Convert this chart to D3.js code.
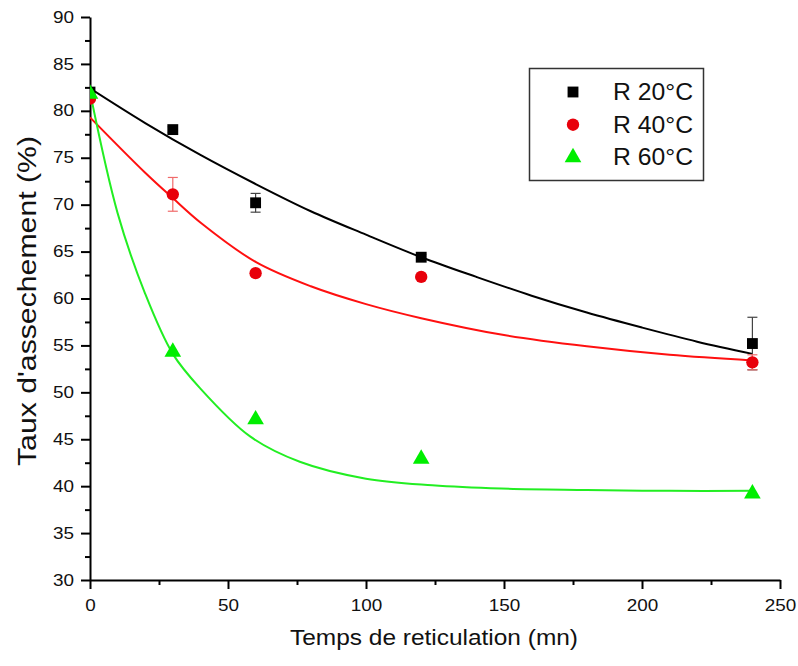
<!DOCTYPE html>
<meta charset="utf-8">
<style>
  body { margin: 0; background: #fff; }
  svg { display: block; font-family: "Liberation Sans", Arial, sans-serif; }
  .axis path, .axis line { stroke: #000; stroke-width: 2; }
  .axis text { font-size: 16px; fill: #111; }
</style>
<svg width="798" height="666"></svg>

<script src="https://cdn.jsdelivr.net/npm/d3@7"></script>
<script>

// measured points (time in mn, rate in %)
var times = [0, 30, 60, 120, 240];
var r20 = [82.0, 78.0, 70.2, 64.4, 55.2];
var r20err = [0, 0.3, 1.0, 0.3, 2.8];
var r40 = [81.3, 71.1, 62.7, 62.3, 53.2];
var r40err = [0, 1.8, 0, 0, 0.8];
var r60 = [81.8, 54.3, 47.1, 42.9, 39.2];
var r60err = [0, 0, 0, 0, 0];

// fitted curves
var fit20x = [0, 20, 40, 60, 80, 100, 120, 140, 160, 180, 200, 220, 240];
var fit20y = [82.4, 78.7, 75.3, 72.2, 69.3, 66.8, 64.4, 62.3, 60.3, 58.5, 56.9, 55.4, 54.1];
var fit40x = [0, 20, 30, 40, 60, 80, 100, 120, 150, 180, 210, 240];
var fit40y = [79.3, 73.4, 70.7, 68.1, 63.9, 61.3, 59.4, 57.9, 56.1, 54.9, 54.0, 53.4];
var fit60x = [0, 10, 20, 30, 40, 58, 76, 100, 124, 149, 180, 210, 240];
var fit60y = [82.0, 69.1, 60.5, 54.1, 50.4, 45.3, 42.6, 40.8, 40.1, 39.75, 39.6, 39.5, 39.5];

var xTicks = [0, 50, 100, 150, 200, 250];
var xMinor = [25, 75, 125, 175, 225];
var yTicks = [30, 35, 40, 45, 50, 55, 60, 65, 70, 75, 80, 85, 90];
var yMinor = [32.5, 37.5, 42.5, 47.5, 52.5, 57.5, 62.5, 67.5, 72.5, 77.5, 82.5, 87.5];

var series = [
  { name: "R 20\u00b0C", y: r20, err: r20err, fx: fit20x, fy: fit20y, color: "#000", errColor: "#444", line: "#000", symbol: d3.symbolSquare, size: 118 },
  { name: "R 40\u00b0C", y: r40, err: r40err, fx: fit40x, fy: fit40y, color: "#e8000b", errColor: "#f06a6a", line: "#ff1010", symbol: d3.symbolCircle, size: 120 },
  { name: "R 60\u00b0C", y: r60, err: r60err, fx: fit60x, fy: fit60y, color: "#00ee00", errColor: "#00ee00", line: "#22ee22", symbol: d3.symbolTriangle, size: 120 }
];

var svg = d3.select("svg");

var x = d3.scaleLinear().domain([0, 250]).range([90, 780]);
var y = d3.scaleLinear().domain([30, 90]).range([580, 17]);

svg.append("clipPath").attr("id", "plot")
  .append("rect")
    .attr("x", x(0)).attr("y", y(90))
    .attr("width", x(250) - x(0)).attr("height", y(30) - y(90));

// width of the digits in the picture is a bit stretched
function digits(s) { return String(s).length * 10.5; }

/*
 * Axes, major then minor ticks.
 */
var gx = svg.append("g")
    .attr("class", "axis")
    .attr("transform", "translate(0," + y(30) + ")")
    .call(d3.axisBottom(x).tickValues(xTicks).tickSize(9).tickSizeOuter(0).tickPadding(8));
gx.selectAll("text").attr("dy", "0.9em")
    .attr("textLength", function(d) { return digits(d); })
    .attr("lengthAdjust", "spacingAndGlyphs");

svg.append("g")
    .attr("class", "axis")
    .attr("transform", "translate(0," + y(30) + ")")
    .call(d3.axisBottom(x).tickValues(xMinor).tickSize(5).tickFormat(""))
    .select(".domain").remove();

var gy = svg.append("g")
    .attr("class", "axis")
    .attr("transform", "translate(" + x(0) + ",0)")
    .call(d3.axisLeft(y).tickValues(yTicks).tickSize(9).tickSizeOuter(0).tickPadding(7));
gy.selectAll("text")
    .attr("textLength", function(d) { return digits(d); })
    .attr("lengthAdjust", "spacingAndGlyphs");

svg.append("g")
    .attr("class", "axis")
    .attr("transform", "translate(" + x(0) + ",0)")
    .call(d3.axisLeft(y).tickValues(yMinor).tickSize(5).tickFormat(""))
    .select(".domain").remove();

/*
 * Axis titles.
 */
svg.append("text")
    .attr("x", 434).attr("y", 645)
    .attr("text-anchor", "middle")
    .attr("font-size", 22)
    .attr("fill", "#111")
    .attr("textLength", 288).attr("lengthAdjust", "spacingAndGlyphs")
    .text("Temps de reticulation (mn)");

svg.append("text")
    .attr("transform", "translate(36,301)rotate(-90)")
    .attr("text-anchor", "middle")
    .attr("font-size", 26)
    .attr("fill", "#111")
    .attr("textLength", 330).attr("lengthAdjust", "spacingAndGlyphs")
    .text("Taux d'assechement (%)");

/*
 * Fit curves.
 */
var plot = svg.append("g").attr("clip-path", "url(#plot)");

series.forEach(function(s) {
  var pts = s.fx.map(function(v, i) { return [v, s.fy[i]]; });
  plot.append("path")
      .datum(pts)
      .attr("fill", "none")
      .attr("stroke", s.line)
      .attr("stroke-width", 2)
      .attr("d", d3.line()
        .x(function(d) { return x(d[0]); })
        .y(function(d) { return y(d[1]); })
        .curve(d3.curveCatmullRom.alpha(0.5)));
});

/*
 * Error bars and markers.
 */
series.forEach(function(s) {
  var pts = times.map(function(t, i) { return { t: t, v: s.y[i], e: s.err[i] }; });
  var eb = plot.append("g")
      .attr("stroke", s.errColor)
      .attr("stroke-width", 1.2)
    .selectAll("g")
    .data(pts.filter(function(d) { return d.e > 0; }))
    .enter().append("g");
  eb.append("line")
      .attr("x1", function(d) { return x(d.t); }).attr("x2", function(d) { return x(d.t); })
      .attr("y1", function(d) { return y(d.v - d.e); }).attr("y2", function(d) { return y(d.v + d.e); });
  eb.append("line")
      .attr("x1", function(d) { return x(d.t) - 5; }).attr("x2", function(d) { return x(d.t) + 5; })
      .attr("y1", function(d) { return y(d.v + d.e); }).attr("y2", function(d) { return y(d.v + d.e); });
  eb.append("line")
      .attr("x1", function(d) { return x(d.t) - 5; }).attr("x2", function(d) { return x(d.t) + 5; })
      .attr("y1", function(d) { return y(d.v - d.e); }).attr("y2", function(d) { return y(d.v - d.e); });

  plot.append("g").selectAll("path")
    .data(pts)
    .enter().append("path")
      .attr("transform", function(d) { return "translate(" + x(d.t) + "," + y(d.v) + ")"; })
      .attr("d", d3.symbol().type(s.symbol).size(s.size))
      .attr("fill", s.color);
});

/*
 * Legend.
 */
svg.append("rect")
    .attr("x", 529.5).attr("y", 68.5)
    .attr("width", 174).attr("height", 112)
    .attr("fill", "#fff")
    .attr("stroke", "#333")
    .attr("stroke-width", 1.5);

var legend = svg.selectAll(".legend")
    .data(series)
    .enter().append("g")
      .attr("class", "legend")
      .attr("transform", function(d, i) { return "translate(0," + (92 + i * 32.7) + ")"; });

legend.append("path")
    .attr("transform", "translate(573,0)")
    .attr("d", function(d) { return d3.symbol().type(d.symbol).size(d.size)(); })
    .attr("fill", function(d) { return d.color; });

legend.append("text")
    .attr("x", 613)
    .attr("y", 8)
    .attr("font-size", 23)
    .attr("fill", "#111")
    .attr("textLength", 80).attr("lengthAdjust", "spacingAndGlyphs")
    .text(function(d) { return d.name; });
</script>
